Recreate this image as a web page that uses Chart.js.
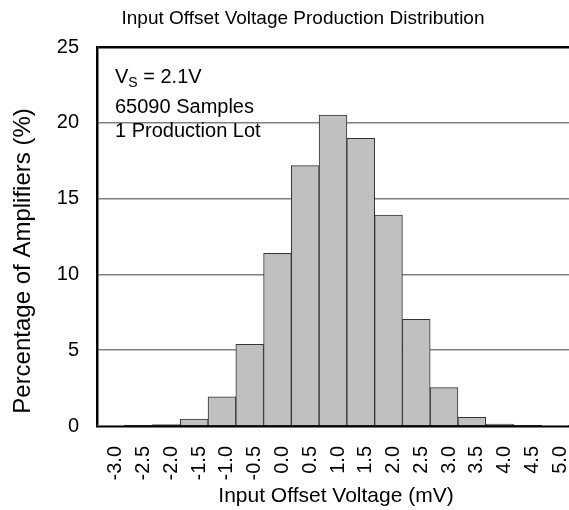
<!DOCTYPE html>
<html>
<head>
<meta charset="utf-8">
<script src="https://cdn.jsdelivr.net/npm/chart.js@4.4.0/dist/chart.umd.min.js"></script>
<style>
  html, body { margin: 0; padding: 0; background: #fff; }
  #wrap { width: 569px; height: 510px; position: relative; }
</style>
</head>
<body>
<div id="wrap"><canvas id="histo"></canvas></div>
<script>
// Dados
const rotulos = ['-3.0', '-2.5', '-2.0', '-1.5', '-1.0', '-0.5', '0.0', '0.5', '1.0', '1.5', '2.0', '2.5', '3.0', '3.5', '4.0', '4.5', '5.0'];
const percentuais = [0.02, 0.05, 0.1, 0.46, 1.93, 5.39, 11.39, 17.17, 20.51, 18.98, 13.92, 7.04, 2.53, 0.57, 0.12, 0.05, 0.03];
const ticksY = [0, 5, 10, 15, 20, 25];

const titulo = 'Input Offset Voltage Production Distribution';
const tituloX = 'Input Offset Voltage (mV)';
const tituloY = 'Percentage of Amplifiers (%)';
const notas = ['65090 Samples', '1 Production Lot'];

const FONTE = '"Liberation Sans", Arial, sans-serif';

// textos desenhados à mão (título, eixos, anotação)
const textos = {
    id: 'textos',
    afterDraw(chart) {
        const ctx = chart.ctx;
        ctx.save();
        ctx.fillStyle = '#000';
        ctx.textBaseline = 'alphabetic';

        ctx.font = '19px ' + FONTE;
        ctx.textAlign = 'center';
        ctx.fillText(titulo, 303, 24);

        ctx.font = '21px ' + FONTE;
        ctx.fillText(tituloX, 336, 502);

        ctx.save();
        ctx.translate(30, 261);
        ctx.rotate(-Math.PI / 2);
        ctx.font = '24px ' + FONTE;
        ctx.fillText(tituloY, 0, 0);
        ctx.restore();

        // V_S = 2.1V
        ctx.textAlign = 'left';
        ctx.font = '20px ' + FONTE;
        ctx.fillText('V', 115, 83);
        let x = 115 + ctx.measureText('V').width;
        ctx.font = '14px ' + FONTE;
        ctx.fillText('S', x, 87);
        x += ctx.measureText('S').width;
        ctx.font = '20px ' + FONTE;
        ctx.fillText(' = 2.1V', x, 83);

        ctx.fillText(notas[0], 115, 113);
        ctx.fillText(notas[1], 115, 137);
        ctx.restore();
    }
};

new Chart(document.getElementById('histo'), {
    type: 'bar',
    data: {
        labels: rotulos,
        datasets: [{
            data: percentuais,
            backgroundColor: '#c0c0c0',
            borderColor: '#333333',
            borderWidth: 1,
            barPercentage: 1,
            categoryPercentage: 1
        }]
    },
    options: {
        responsive: true,
        maintainAspectRatio: false,
        animation: false,
        layout: { padding: { top: 47, right: 0, left: 0, bottom: 0 } },
        plugins: {
            legend: { display: false },
            tooltip: { enabled: false }
        },
        scales: {
            x: {
                grid: { display: false, drawTicks: false },
                border: { color: '#000', width: 2.5 },
                ticks: {
                    color: '#000',
                    font: { family: FONTE, size: 20 },
                    minRotation: 90,
                    maxRotation: 90,
                    padding: 20,
                    labelOffset: 5,
                    autoSkip: false
                },
                afterFit: (escala) => {
                    escala.height = 84;
                    escala.paddingLeft = 0;
                    escala.paddingRight = 0;
                }
            },
            y: {
                min: 0,
                max: 25,
                afterBuildTicks: (escala) => { escala.ticks = ticksY.map(v => ({ value: v })); },
                grid: {
                    drawTicks: false,
                    color: (c) => c.tick && c.tick.value === 25 ? '#000' : '#808080',
                    lineWidth: (c) => c.tick && c.tick.value === 25 ? 2.5 : 1.5
                },
                border: { color: '#000', width: 2.5 },
                ticks: {
                    color: '#000',
                    font: { family: FONTE, size: 20 },
                    padding: 18
                },
                afterFit: (escala) => {
                    escala.width = 97;
                    escala.paddingTop = 0;
                    escala.paddingBottom = 0;
                }
            }
        }
    },
    plugins: [textos]
});
</script>
</body>
</html>
